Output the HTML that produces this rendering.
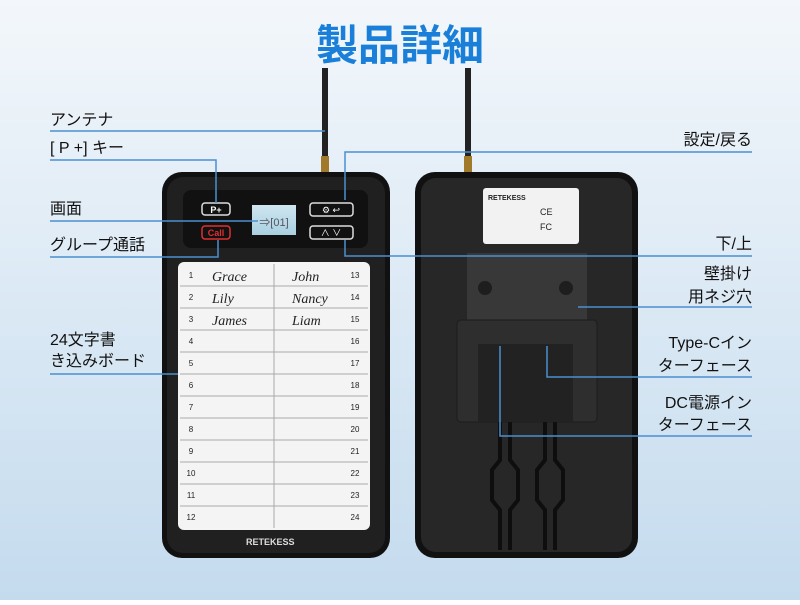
<!DOCTYPE html>
<html><head><meta charset="utf-8"><style>
body{margin:0;width:800px;height:600px;overflow:hidden;font-family:"Liberation Sans","Noto Sans CJK JP",sans-serif}
</style></head><body>
<svg width="800" height="600" viewBox="0 0 800 600" xmlns="http://www.w3.org/2000/svg" style="font-family:'Liberation Sans','Noto Sans CJK JP',sans-serif">
<defs>
<linearGradient id="bg" x1="0" y1="0" x2="0" y2="1"><stop offset="0" stop-color="#f3f7fb"/><stop offset="1" stop-color="#c4dbee"/></linearGradient>
<linearGradient id="scr" x1="0" y1="0" x2="0" y2="1"><stop offset="0" stop-color="#cfe6f0"/><stop offset="1" stop-color="#a9d0e0"/></linearGradient>
</defs>
<rect width="800" height="600" fill="url(#bg)"/>
<text x="400" y="60" text-anchor="middle" font-size="42" font-weight="bold" fill="#1a7fd8">製品詳細</text>
<!-- antennas -->
<rect x="322" y="68" width="6" height="104" fill="#222"/>
<rect x="321" y="156" width="8" height="16" fill="#a07a2a"/>
<rect x="465" y="68" width="6" height="104" fill="#222"/>
<rect x="464" y="156" width="8" height="16" fill="#a07a2a"/>
<!-- left device -->
<rect x="162" y="172" width="228" height="386" rx="20" fill="#111"/>
<rect x="167" y="177" width="218" height="376" rx="16" fill="#202020"/>
<rect x="183" y="190" width="185" height="58" rx="8" fill="#111"/>
<rect x="202" y="203" width="28" height="12" rx="3" fill="none" stroke="#ddd" stroke-width="1.5"/>
<text x="216" y="213" font-size="9" fill="#fff" text-anchor="middle" font-weight="bold">P+</text>
<rect x="202" y="226" width="28" height="13" rx="3" fill="none" stroke="#e03030" stroke-width="1.5"/>
<text x="216" y="236" font-size="9" fill="#e03030" text-anchor="middle" font-weight="bold">Call</text>
<rect x="252" y="205" width="44" height="30" fill="url(#scr)"/>
<text x="274" y="226" font-size="11" fill="#556" text-anchor="middle">⇒[01]</text>
<rect x="310" y="203" width="43" height="13" rx="3" fill="none" stroke="#ddd" stroke-width="1.5"/>
<text x="331" y="213" font-size="9" fill="#fff" text-anchor="middle">⚙   ↩</text>
<rect x="310" y="226" width="43" height="13" rx="3" fill="none" stroke="#ddd" stroke-width="1.5"/>
<text x="331" y="236" font-size="9" fill="#fff" text-anchor="middle">∧   ∨</text>
<rect x="178" y="262" width="192" height="268" rx="6" fill="#f4f4f4"/>
<g stroke="#aaa" stroke-width="1">
<line x1="274" y1="264" x2="274" y2="528"/>
<line x1="180" y1="286" x2="368" y2="286"/><line x1="180" y1="308" x2="368" y2="308"/><line x1="180" y1="330" x2="368" y2="330"/><line x1="180" y1="352" x2="368" y2="352"/><line x1="180" y1="374" x2="368" y2="374"/><line x1="180" y1="396" x2="368" y2="396"/><line x1="180" y1="418" x2="368" y2="418"/><line x1="180" y1="440" x2="368" y2="440"/><line x1="180" y1="462" x2="368" y2="462"/><line x1="180" y1="484" x2="368" y2="484"/><line x1="180" y1="506" x2="368" y2="506"/>
</g>
<g font-size="8" fill="#222" text-anchor="middle">
<text x="191" y="278">1</text><text x="191" y="300">2</text><text x="191" y="322">3</text><text x="191" y="344">4</text><text x="191" y="366">5</text><text x="191" y="388">6</text><text x="191" y="410">7</text><text x="191" y="432">8</text><text x="191" y="454">9</text><text x="191" y="476">10</text><text x="191" y="498">11</text><text x="191" y="520">12</text>
<text x="355" y="278">13</text><text x="355" y="300">14</text><text x="355" y="322">15</text><text x="355" y="344">16</text><text x="355" y="366">17</text><text x="355" y="388">18</text><text x="355" y="410">19</text><text x="355" y="432">20</text><text x="355" y="454">21</text><text x="355" y="476">22</text><text x="355" y="498">23</text><text x="355" y="520">24</text>
</g>
<g font-size="14" fill="#222" font-family="'Liberation Serif',serif" font-style="italic">
<text x="212" y="281">Grace</text><text x="212" y="303">Lily</text><text x="212" y="325">James</text>
<text x="292" y="281">John</text><text x="292" y="303">Nancy</text><text x="292" y="325">Liam</text>
</g>
<text x="246" y="545" font-size="9" fill="#ddd" font-weight="bold">RETEKESS</text>
<!-- right device -->
<rect x="415" y="172" width="223" height="386" rx="20" fill="#111"/>
<rect x="421" y="178" width="211" height="374" rx="15" fill="#272727"/>
<rect x="483" y="188" width="96" height="56" rx="3" fill="#f2f2f2"/>
<text x="488" y="200" font-size="7" fill="#222" font-weight="bold">RETEKESS</text>
<text x="540" y="215" font-size="9" fill="#222">CE</text>
<text x="540" y="230" font-size="9" fill="#222">FC</text>
<rect x="467" y="253" width="120" height="72" fill="#383838"/>
<circle cx="485" cy="288" r="7" fill="#1e1e1e"/><circle cx="566" cy="288" r="7" fill="#1e1e1e"/>
<rect x="457" y="320" width="140" height="102" rx="4" fill="#2e2e2e" stroke="#1c1c1c"/>
<rect x="478" y="344" width="95" height="78" fill="#222"/>
<g stroke="#0e0e0e" stroke-width="4" fill="none">
<path d="M500 422 V460 L492 470 V500 L500 510 V550"/><path d="M555 422 V460 L563 470 V500 L555 510 V550"/>
<path d="M510 422 V460 L518 470 V500 L510 510 V550"/><path d="M545 422 V460 L537 470 V500 L545 510 V550"/>
</g>
<!-- callout lines -->
<g stroke="#4a8fd0" stroke-width="1.5" fill="none">
<path d="M50 131 H325"/>
<path d="M50 160 H216 V203"/>
<path d="M50 221 H258"/>
<path d="M50 257 H218 V240"/>
<path d="M50 374 H178"/>
<path d="M752 152 H345 V200"/>
<path d="M752 256 H345 V240"/>
<path d="M752 307 H578"/>
<path d="M752 377 H547 V346"/>
<path d="M752 436 H500 V346"/>
</g>
<g font-size="16" fill="#111">
<text x="50" y="125">アンテナ</text>
<text x="50" y="153">[ P +] キー</text>
<text x="50" y="214">画面</text>
<text x="50" y="250">グループ通話</text>
<text x="50" y="345">24文字書</text>
<text x="50" y="366">き込みボード</text>
<g text-anchor="end">
<text x="752" y="145">設定/戻る</text>
<text x="752" y="249">下/上</text>
<text x="752" y="279">壁掛け</text>
<text x="752" y="302">用ネジ穴</text>
<text x="752" y="348">Type-Cイン</text>
<text x="752" y="371">ターフェース</text>
<text x="752" y="408">DC電源イン</text>
<text x="752" y="430">ターフェース</text>
</g>
</g>
</svg>
</body></html>
